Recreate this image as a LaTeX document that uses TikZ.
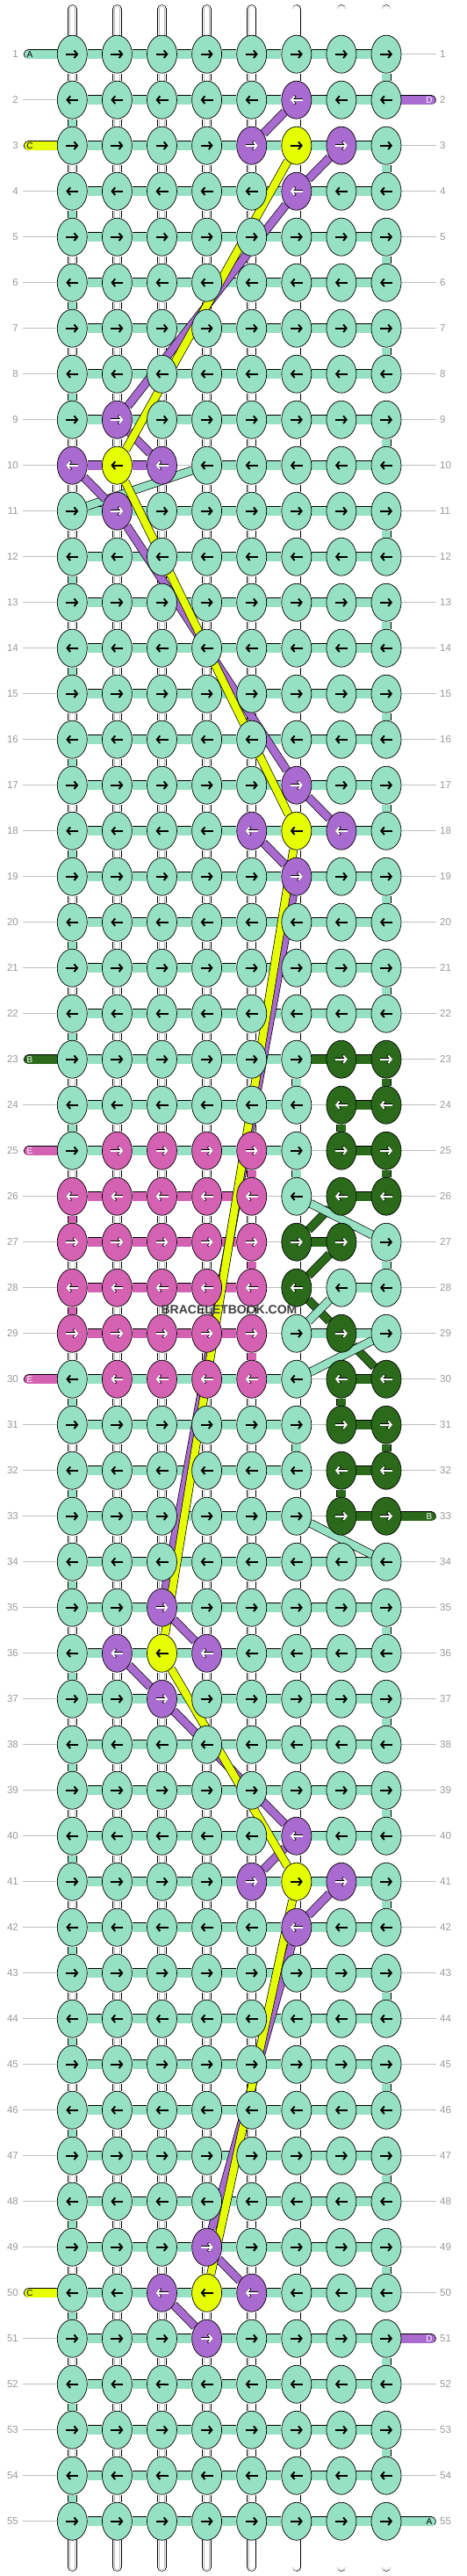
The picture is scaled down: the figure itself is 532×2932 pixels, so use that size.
\documentclass[tikz,border=0pt]{standalone}
\usepackage{fontspec}
\setmainfont{Liberation Sans}
\usetikzlibrary{shapes.geometric,arrows.meta}
\definecolor{colM}{HTML}{96E0C4}
\definecolor{colP}{HTML}{A96BCF}
\definecolor{colY}{HTML}{E5FF00}
\definecolor{colK}{HTML}{D561B3}
\definecolor{colG}{HTML}{2A6A1A}
\definecolor{labgray}{HTML}{9A9A9A}
\definecolor{linegray}{HTML}{BEBEBE}
\definecolor{innergray}{HTML}{B8B8B8}
\definecolor{wmgray}{HTML}{404040}
\colorlet{arrM}{black}
\colorlet{arrY}{black}
\colorlet{arrP}{white}
\colorlet{arrK}{white}
\colorlet{arrG}{white}
\colorlet{outM}{colM}
\colorlet{outY}{colY}
\colorlet{outP}{black}
\colorlet{outK}{black}
\colorlet{outG}{black}
\pgfdeclarelayer{lzero}
\pgfdeclarelayer{lone}
\pgfdeclarelayer{ltwo}
\pgfsetlayers{lzero,lone,ltwo,main}
\def\setg#1#2{\expandafter\xdef\csname #1\endcsname{#2}}
\def\getv#1#2#3{\ifcsname #2\endcsname\edef#1{\csname #2\endcsname}\else\def#1{#3}\fi}
\def\WW{W}
\def\NN{N}
% knot colours
\foreach \k/\v in {6-2/P,5-3/P,7-3/P,6-4/P,2-9/P,1-10/P,3-10/P,2-11/P,6-17/P,5-18/P,7-18/P,6-19/P,3-35/P,2-36/P,4-36/P,3-37/P,6-40/P,5-41/P,7-41/P,6-42/P,4-49/P,3-50/P,5-50/P,4-51/P,6-3/Y,2-10/Y,6-18/Y,3-36/Y,6-41/Y,4-50/Y,6-27/G,7-27/G,6-28/G,7-29/G}{\setg{kc@\k}{\v}}
\foreach \r in {26,...,29}{\foreach \c in {1,...,5}{\setg{kc@\c-\r}{K}}}
\foreach \c in {2,...,5}{\setg{kc@\c-25}{K}\setg{kc@\c-30}{K}}
\foreach \r in {23,24,25,26,30,31,32,33}{\setg{kc@7-\r}{G}\setg{kc@8-\r}{G}}
% horizontal segments
\foreach \k/\v in {1-10/P,2-10/P,3-10/N,6-23/G,7-23/G,6-24/N,7-24/G,6-25/N,7-25/G,1-26/K,2-26/K,3-26/K,4-26/K,5-26/N,6-26/N,7-26/G,1-27/K,2-27/K,3-27/K,4-27/K,5-27/N,6-27/G,7-27/N,1-28/K,2-28/K,3-28/K,4-28/K,5-28/N,6-28/N,7-28/M,1-29/K,2-29/K,3-29/K,4-29/K,5-29/N,6-29/M,7-29/M,6-30/N,7-30/G,6-31/N,7-31/G,6-32/N,7-32/G,6-33/N,7-33/G}{\setg{hs@\k}{\v}}
% vertical segments
\foreach \r in {1,...,22}{\pgfmathtruncatemacro\cc{isodd(\r)?8:1}\setg{vs@\cc-\r}{M}}
\foreach \r in {34,...,54}{\pgfmathtruncatemacro\cc{isodd(\r)?8:1}\setg{vs@\cc-\r}{M}}
\setg{vs@1-10}{W}
\foreach \k/\v in {6-23/M,8-23/G,1-24/M,7-24/G,5-25/K,6-25/M,8-25/G,1-26/K,5-27/K,8-27/M,1-28/K,5-29/K,1-30/M,7-30/G,6-31/M,8-31/G,1-32/M,7-32/G}{\setg{vs@\k}{\v}}
\begin{document}
\begin{tikzpicture}[x=1pt,y=-1pt,
  knot/.style={ellipse,draw=black,line width=0.7pt,minimum width=34pt,minimum height=43pt,inner sep=0pt},
  seg/.style={draw=black,line width=0.7pt,double distance=9.6pt},
  wseg/.style={draw=black,line width=0.7pt,double=white,double distance=9.2pt,
     postaction={draw=innergray,line width=0.45pt,double=white,double distance=5.6pt}},
  band/.style={draw=black,line width=0.7pt,double distance=8.4pt},
  arr/.style={line width=1.9pt,-{Straight Barb[length=3.6pt,width=8.6pt]}},
  arrout/.style={line width=2.7pt,-{Straight Barb[length=3.9pt,width=9.4pt]}},
  rowlab/.style={text=labgray,font=\fontsize{11.5}{12}\selectfont,inner sep=0pt},
  rowline/.style={draw=linegray,line width=0.8pt},
  stublab/.style={font=\fontsize{10}{10}\selectfont,inner sep=0pt},
  wm/.style={text=wmgray,font=\bfseries\fontsize{14}{14}\selectfont,inner sep=0pt}]
\useasboundingbox (0,0) rectangle (532,2932);
\begin{pgfonlayer}{lzero}
\fill[white] (0,0) rectangle (532,2932);
\end{pgfonlayer}
% knots and arrows
\foreach \r in {1,...,55}{
  \foreach \c in {1,...,8}{
    \getv\kc{kc@\c-\r}{M}
    \pgfmathsetmacro\xx{31.2+51.1*\c}
    \pgfmathsetmacro\yy{9.7+52*\r}
    \pgfmathsetmacro\xa{isodd(\r)?\xx-7:\xx+7}
    \pgfmathsetmacro\xb{isodd(\r)?\xx+7:\xx-7}
    \node[knot,fill=col\kc] (k\c-\r) at (\xx,\yy) {};
    \draw[arrout,draw=out\kc] (\xa,\yy) -- (\xb,\yy);
    \draw[arr,draw=arr\kc] (\xa,\yy) -- (\xb,\yy);
  }
}
% row numbers and row lines
\foreach \r in {1,...,55}{
  \pgfmathsetmacro\yy{9.7+52*\r}
  \node[rowlab,anchor=east] (ll\r) at (21,\yy) {\r};
  \node[rowlab,anchor=west] (lr\r) at (501,\yy) {\r};
  \begin{pgfonlayer}{lzero}
  \draw[rowline] ([xshift=5pt]ll\r.east) -- ([xshift=-4.5pt]lr\r.west);
  \end{pgfonlayer}
}
\begin{pgfonlayer}{lone}
% strings at top and bottom
\foreach \c in {1,...,8}{
  \pgfmathsetmacro\xx{31.2+51.1*\c}
  \coordinate (t\c) at (\xx,10.5);
  \coordinate (b\c) at (\xx,2921.5);
  \draw[wseg,line cap=round] (t\c) -- (k\c-1);
  \draw[wseg,line cap=round] (b\c) -- (k\c-55);
}
% vertical segments
\foreach \r [evaluate=\r as \s using int(\r+1)] in {1,...,54}{
  \foreach \c in {1,...,8}{
    \getv\vc{vs@\c-\r}{W}
    \ifx\vc\WW
      \draw[wseg] (k\c-\r) -- (k\c-\s);
    \else
      \draw[seg,double=col\vc] (k\c-\r) -- (k\c-\s);
    \fi
  }
}
% horizontal segments
\foreach \r in {1,...,55}{
  \foreach \c [evaluate=\c as \d using int(\c+1)] in {1,...,7}{
    \getv\hc{hs@\c-\r}{M}
    \ifx\hc\NN\else
      \draw[seg,double=col\hc] (k\c-\r) -- (k\d-\r);
    \fi
  }
}
% end stubs
\foreach \r/\sd/\cl/\lb/\tc in {1/L/M/A/black,2/R/P/D/white,3/L/Y/C/black,23/L/G/B/white,25/L/K/E/white,30/L/K/E/white,33/R/G/B/white,50/L/Y/C/black,51/R/P/D/white,55/R/M/A/black}{
  \pgfmathsetmacro\yy{9.7+52*\r}
  \if L\sd
    \coordinate (s\r) at (32.5,\yy);
    \draw[seg,double=col\cl,line cap=round] (s\r) -- (k1-\r);
    \node[stublab,text=\tc] (sl\r) at (34,\yy) {\lb};
  \else
    \coordinate (s\r) at (491.3,\yy);
    \draw[seg,double=col\cl,line cap=round] (k8-\r) -- (s\r);
    \node[stublab,text=\tc] (sl\r) at (489,\yy) {\lb};
  \fi
}
\end{pgfonlayer}
\begin{pgfonlayer}{ltwo}
\foreach \a/\b in {7-26/6-27,7-27/6-28,6-28/7-29,7-29/8-30}{\draw[band,double=colG] (k\a) -- (k\b);}
\foreach \a/\b in {4-10/1-11,6-26/8-27,7-28/6-29,8-29/6-30,6-33/8-34}{\draw[band,double=colM] (k\a) -- (k\b);}
\foreach \a/\b in {6-2/5-3,7-3/6-4,6-4/2-9,2-9/3-10,1-10/2-11,2-11/6-17,6-17/7-18,5-18/6-19,6-19/3-35,3-35/4-36,2-36/3-37,3-37/6-40,6-40/5-41,7-41/6-42,6-42/4-49,4-49/5-50,3-50/4-51}{\draw[band,double=colP] (k\a) -- (k\b);}
\foreach \a/\b in {6-3/2-10,2-10/6-18,6-18/3-36,3-36/6-41,6-41/4-50}{\draw[band,double=colY] (k\a) -- (k\b);}
\end{pgfonlayer}
\node[wm] (wm) at (261,1491) {BRACELETBOOK.COM};
\end{tikzpicture}
\end{document}
